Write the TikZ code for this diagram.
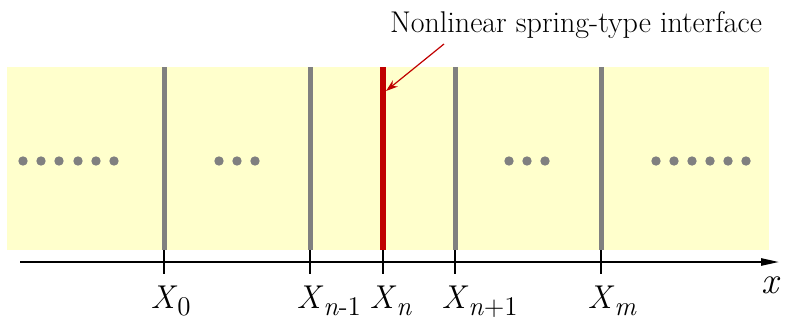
\documentclass[tikz,border=0pt]{standalone}
\usetikzlibrary{arrows.meta,positioning}
\definecolor{paleyellow}{RGB}{255,255,204}
\definecolor{ifgray}{RGB}{128,128,128}
\definecolor{ifred}{RGB}{192,0,0}
\newcommand{\Xlab}[1]{\fontsize{16.5}{20}\selectfont\textit{X}\rlap{\raisebox{-3.5pt}{\fontsize{13.5}{16}\selectfont #1}}}

\begin{document}
\begin{tikzpicture}[x=0.5pt,y=-0.5pt,
    iface/.style={draw=ifgray, line width=2.5pt},
    tick/.style={draw=black, line width=1.2pt},
    dot/.style={fill=ifgray},
    xlab/.style={anchor=base, inner sep=0pt}]
            \useasboundingbox (0,0) rectangle (787,322);

            % Layered medium
            \fill[paleyellow] (7,67) rectangle (769,250);

            % Interfaces and ticks
            \foreach \x/\name/\sub in {164/x0/0, 310/xnm/\textit{n}-1, 455/xnp/\textit{n}+1, 601/xm/\textit{m}} {
                \coordinate (\name-t) at (\x,67);
                \coordinate (\name-b) at (\x,250);
                \coordinate (\name-k) at (\x,274);
                \draw[iface] (\name-t) -- (\name-b);
                \draw[tick] (\name-b) -- (\name-k);
                \node[xlab] (\name-lab) at (\x,308) {\Xlab{\sub}};
            }

            % Nonlinear interface
            \coordinate (xn-t) at (383,67);
            \coordinate (xn-b) at (383,250);
            \coordinate (xn-k) at (383,274);
            \draw[iface, draw=ifred, line width=2.6pt] (xn-t) -- (xn-b);
            \draw[tick] (xn-b) -- (xn-k);
            \node[xlab] (xn-lab) at (383,308) {\Xlab{\textit{n}}};

            % Dots
            \foreach \x in {23,41,59,78,96,114,219,237,255,509,527,545,656,674,692,710,728,746}
                \fill[dot] (\x,161) circle (4.7);

            % Axis
            \coordinate (ax-start) at (20,262);
            \coordinate (ax-end) at (779,262);
            \draw[line width=1pt, -{Triangle[length=9pt,width=3.6pt]}] (ax-start) -- (ax-end);
            \node[xlab] (xlab) at (771,293) {\fontsize{19}{22}\selectfont\textit{x}};

            % Annotation
            \node[anchor=base, inner sep=0pt] (note) at (576,32) {\fontsize{15}{18}\selectfont Nonlinear spring-type interface};
            \coordinate (note-tail) at (444,44);
            \coordinate (note-tip) at (386,91);
            \draw[ifred, line width=0.6pt, -{Stealth[length=6pt,width=4pt]}] (note-tail) -- (note-tip);
        \end{tikzpicture}
\end{document}
